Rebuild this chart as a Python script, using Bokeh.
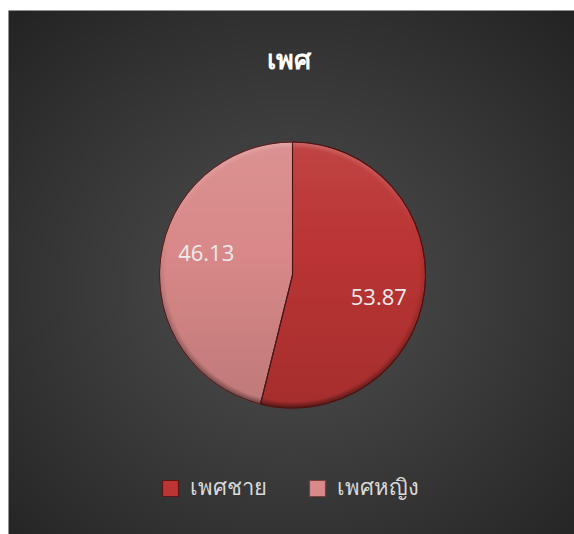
import numpy as np
from bokeh.plotting import figure
from bokeh.models import Range1d, Legend, LegendItem
from bokeh.core.properties import value
from bokeh.embed import file_html
from bokeh.resources import INLINE

# ---- data ----
title_text = "เพศ"
categories = ["เพศชาย", "เพศหญิง"]
percent = [53.87, 46.13]
labels = ["53.87", "46.13"]
colors = ["#bb3534", "#d98989"]
edge_colors = ["#5a1616", "#7a4040"]

W, H = 574, 534
p = figure(width=W, height=H, output_backend="svg", toolbar_location=None,
           x_range=Range1d(0, W), y_range=Range1d(0, H), min_border=0)
p.axis.visible = False
p.grid.visible = False
p.outline_line_color = None
p.background_fill_color = "#ffffff"
p.border_fill_color = "#ffffff"

# radial gradient chart background
bx0, by0, bw, bh = 8, 0, W - 8, H - 10
nx, ny = 141, 131
gx, gy = np.meshgrid(np.linspace(0, 1, nx), np.linspace(0, 1, ny))
d = np.sqrt(((gx - 0.5) / 0.72) ** 2 + ((gy - 0.47) / 0.72) ** 2)
d = np.clip(d, 0, 1)
c_in, c_out = 78, 36
g = (c_in + (c_out - c_in) * d ** 1.1).astype(np.uint32)
img = (np.uint32(255) << 24) | (g << 16) | (g << 8) | g
p.image_rgba(image=[img.astype(np.uint32)], x=bx0, y=by0, dw=bw, dh=bh)

# pie
cx, cy, r = 292, 259.5, 133
vals = np.array(percent)
frac = vals / vals.sum()
cum = np.concatenate([[0], np.cumsum(frac)])
start = np.pi / 2 - cum[:-1] * 2 * np.pi
end = np.pi / 2 - cum[1:] * 2 * np.pi
renderers = []
for i in range(len(categories)):
    rr = p.wedge(x=cx, y=cy, radius=r, start_angle=start[i], end_angle=end[i],
                 direction="clock", fill_color=colors[i], line_color=edge_colors[i],
                 line_width=1.2)
    renderers.append(rr)

# shading overlay (vertical light + bevel rim), transparent outside the disc
n = 2 * int(r) + 2
sx, sy = np.meshgrid(np.linspace(-n / 2, n / 2, n), np.linspace(-n / 2, n / 2, n))
rho = np.sqrt(sx ** 2 + sy ** 2) / r
inside = np.clip((1.0 - rho) * r + 0.5, 0, 1)
t = (1 - sy / r) / 2  # 0 at top, 1 at bottom
dark = 0.12 * t
light = 0.08 * (1 - t)
bevel_w = 6.0 / r
band = np.clip((rho - (1 - bevel_w)) / bevel_w, 0, 1)
ny_ = np.where(rho > 0, sy / np.maximum(rho * r, 1e-6), 0)
light += 0.28 * band * np.clip(ny_, 0, 1)
dark += 0.30 * band * np.clip(-ny_, 0, 1) + 0.10 * band
net = light - dark
a = np.clip(np.abs(net), 0, 1) * inside
cval = np.where(net > 0, 255, 0).astype(np.uint32)
A = (a * 255).astype(np.uint32)
ov = (A << 24) | (cval << 16) | (cval << 8) | cval
p.image_rgba(image=[ov.astype(np.uint32)], x=cx - n / 2, y=cy - n / 2, dw=n, dh=n)

# separator edges re-drawn on top
for i in range(len(categories)):
    p.wedge(x=cx, y=cy, radius=r, start_angle=start[i], end_angle=end[i],
            direction="clock", fill_alpha=0, line_color="#4a1212", line_width=1.0,
            line_alpha=0.8)

# labels
mid = (cum[:-1] + cum[1:]) / 2 * 2 * np.pi + np.deg2rad(7.5)
lr = 0.67 * r
lx = cx + lr * np.sin(mid)
ly = cy + lr * np.cos(mid)
p.text(x=lx, y=ly, text=labels, text_align="center", text_baseline="middle",
       text_color="#ececec", text_font_size="22px", text_font=value("Open Sans"))

# title
p.text(x=[288], y=[H - 58], text=[title_text], text_align="center",
       text_baseline="middle", text_color="#ffffff", text_font_size="27px",
       text_font_style="bold", text_font=value("Noto Sans"))

legend = Legend(items=[LegendItem(label=categories[i], renderers=[renderers[i]])
                       for i in range(len(categories))],
                orientation="horizontal", location=(150, 19),
                glyph_width=20, glyph_height=20, spacing=40, label_standoff=10,
                label_text_font_size="22px", label_text_color="#d9d9d9",
                label_text_font="Noto Sans",
                background_fill_alpha=0, border_line_alpha=0)
p.add_layout(legend)

open("out.html", "w").write(file_html(p, INLINE))
